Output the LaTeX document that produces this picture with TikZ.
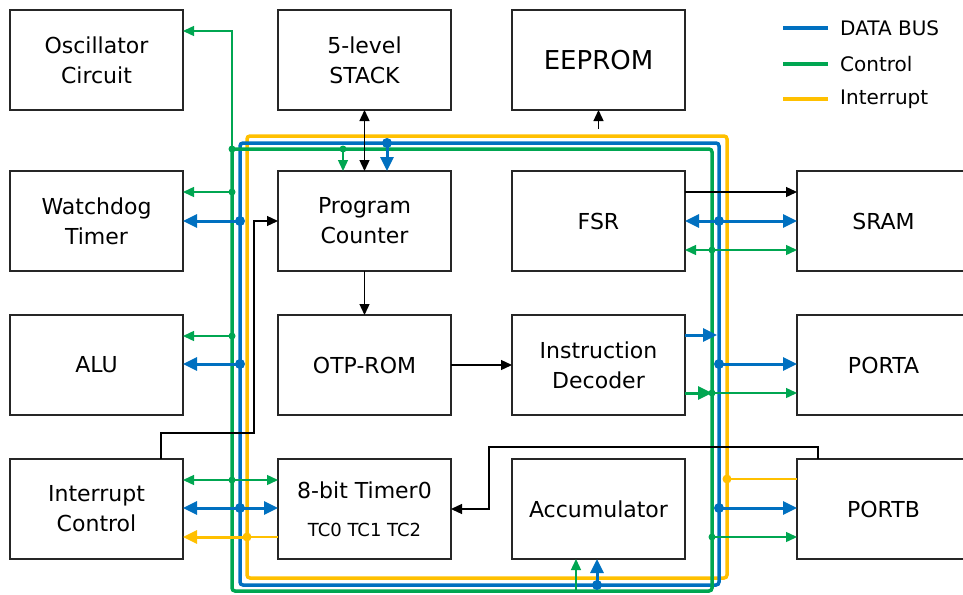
\documentclass[tikz,border=0pt]{standalone}
\usepackage{fontspec}
\setmainfont{DejaVu Sans}
\usetikzlibrary{arrows.meta, positioning}
\definecolor{busBlue}{RGB}{0,112,192}
\definecolor{busGreen}{RGB}{0,166,81}
\definecolor{busYellow}{RGB}{255,192,0}
\tikzset{
    >={Triangle[length=11pt,width=10pt]},
    bigTip/.tip={Triangle[length=14pt,width=13pt]},
    % Blocks
    blk/.style={rectangle, draw=black!85, line width=1.3pt, outer sep=0pt,
                minimum width=173pt, minimum height=100pt, align=center,
                font=\fontsize{22}{30}\selectfont},
    % Buses
    bus/.style={line width=3.5pt, rounded corners=3pt},
    % Links
    dataLink/.style={busBlue, line width=3pt, -bigTip},
    dataBoth/.style={busBlue, line width=3pt, bigTip-bigTip},
    ctrlLink/.style={busGreen, line width=1.4pt, ->},
    irqLink/.style={busYellow, line width=1.4pt},
    sig/.style={black, line width=1.3pt, ->},
    % Junction dots
    dotB/.style={circle, fill=busBlue, inner sep=0pt, minimum size=10pt},
    dotG/.style={circle, fill=busGreen, inner sep=0pt, minimum size=7pt},
    dotY/.style={circle, fill=busYellow, inner sep=0pt, minimum size=9pt},
    legend/.style={anchor=west, inner sep=0pt, font=\fontsize{20}{24}\selectfont}
}
\begin{document}
\begin{tikzpicture}[x=1pt, y=-1pt, node distance=61pt and 95pt]
\path[use as bounding box, clip] (0,0) rectangle (963,594);

% Blocks
\node[blk] (osc) at (96.5,60) {Oscillator\\Circuit};
\node[blk, below=61pt of osc] (wdt) {Watchdog\\Timer};
\node[blk, below=44pt of wdt] (alu) {ALU};
\node[blk, below=44pt of alu] (irq) {Interrupt\\Control};
\node[blk, right=95pt of osc] (stk) {5-level\\STACK};
\node[blk, below=61pt of stk] (pc) {Program\\Counter};
\node[blk, below=44pt of pc] (rom) {OTP-ROM};
\node[blk, below=44pt of rom] (tmr) {8-bit Timer0\\[8pt]{\fontsize{18}{22}\selectfont TC0 TC1 TC2}};
\node[blk, right=61pt of stk, font=\fontsize{26}{30}\selectfont] (eep) {EEPROM};
\node[blk, below=61pt of eep] (fsr) {FSR};
\node[blk, below=44pt of fsr] (dec) {Instruction\\Decoder};
\node[blk, below=44pt of dec] (acc) {Accumulator};
\node[blk, right=112pt of fsr] (sram) {SRAM};
\node[blk, right=112pt of dec] (porta) {PORTA};
\node[blk, right=112pt of acc] (portb) {PORTB};

% Buses
\draw[bus, busYellow] (247,136) rectangle (727,578);
\draw[bus, busBlue] (240,143) rectangle (719,585);
\draw[bus, busGreen] (232,149) rectangle (712,591);

% Bus taps
\node[dotG] (gOsc) at (232,149) {};
\node[dotG] (gWdt) at (232,192) {};
\node[dotB] (bWdt) at (240,221) {};
\node[dotG] (gAlu) at (232,336) {};
\node[dotB] (bAlu) at (240,364) {};
\node[dotG] (gIrq) at (232,480) {};
\node[dotB] (bIrq) at (240,508) {};
\node[dotY] (yIrq) at (247,537) {};
\node[dotG] (gPc) at (343,149) {};
\node[dotB] (bPc) at (387,143) {};
\node[dotB] (bFsr) at (719,221) {};
\node[dotG] (gFsr) at (712,250) {};
\node[dotB] (bPa) at (719,364) {};
\node[dotG] (gDec) at (712,393) {};
\node[dotY] (yPb) at (727,479) {};
\node[dotB] (bPb) at (719,508) {};
\node[dotG] (gPb) at (712,537) {};
\node[dotB] (bAcc) at (597,585) {};
\coordinate (gAcc) at (576,591);
\coordinate (bDec) at (717,335);
\coordinate (eepTap) at (598.5,129);
\coordinate (irqBend) at (254,433);
\coordinate (pbBend) at (489,447);

% Left side
\draw[ctrlLink] (gOsc.center) |- ([yshift=29pt]osc.east);
\draw[ctrlLink] (gWdt.center) -- (wdt.east |- gWdt);
\draw[dataLink] (bWdt.center) -- (wdt.east |- bWdt);
\draw[ctrlLink] (gAlu.center) -- (alu.east |- gAlu);
\draw[dataLink] (bAlu.center) -- (alu.east |- bAlu);
\draw[ctrlLink, <->] (irq.east |- gIrq) -- (tmr.west |- gIrq);
\draw[dataBoth] (irq.east |- bIrq) -- (tmr.west |- bIrq);
\draw[irqLink] (tmr.west |- yIrq) -- (yIrq.center);
\draw[irqLink, line width=3pt, -bigTip] (yIrq.center) -- (irq.east |- yIrq);
\draw[sig] ([xshift=64.5pt]irq.north) |- (irqBend) |- (pc.west);

% Middle
\draw[ctrlLink] (gPc.center) -- (pc.north -| gPc);
\draw[dataLink] (bPc.center) -- (pc.north -| bPc);
\draw[sig, <->] (stk) -- (pc);
\draw[sig] (pc) -- (rom);
\draw[sig] (rom) -- (dec);
\draw[sig] (eepTap) -- (eep);
\draw[ctrlLink] (gAcc) -- (acc.south -| gAcc);
\draw[dataLink] (bAcc.center) -- (acc.south -| bAcc);

% Right side
\draw[sig] ([yshift=29pt]fsr.east) -- ([yshift=29pt]sram.west);
\draw[dataBoth] (fsr.east |- bFsr) -- (sram.west |- bFsr);
\draw[ctrlLink, <->] (fsr.east |- gFsr) -- (sram.west |- gFsr);
\draw[dataLink] (dec.east |- bDec) -- (bDec);
\draw[dataLink] (bPa.center) -- (porta.west |- bPa);
\draw[ctrlLink, line width=3pt, -bigTip] (dec.east |- gDec) -- (gDec.center);
\draw[ctrlLink] (gDec.center) -- (porta.west |- gDec);
\draw[irqLink] (portb.west |- yPb) -- (yPb.center);
\draw[dataLink] (bPb.center) -- (portb.west |- bPb);
\draw[ctrlLink] (gPb.center) -- (portb.west |- gPb);
\draw[sig] ([xshift=21pt]portb.north west) |- (pbBend) |- (tmr.east);

% Legend
\node[legend] (lgData) at (840,28) {DATA BUS};
\node[legend] (lgCtrl) at (840,64) {Control};
\node[legend] (lgIrq) at (840,99) {Interrupt};
\draw[busBlue, line width=3.5pt] ([xshift=-12pt]lgData.west) -- ++(-45pt,0);
\draw[busGreen, line width=3.5pt] ([xshift=-12pt]lgCtrl.west) -- ++(-45pt,0);
\draw[busYellow, line width=3.5pt] ([xshift=-12pt]lgIrq.west) -- ++(-45pt,0);

\end{tikzpicture}
\end{document}
